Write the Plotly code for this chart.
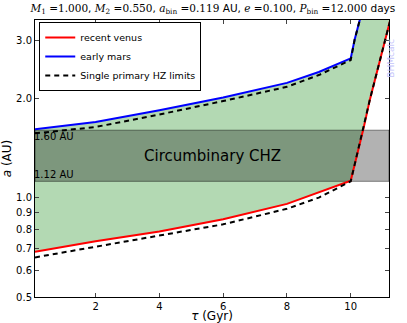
import numpy as np
import plotly.graph_objects as go

# age (Gyr) and HZ edges (AU)
tau_venus = [0.1, 2, 4, 6, 8, 9, 10, 10.4, 10.6, 11.2, 11.4]
a_venus = [0.685, 0.737, 0.79, 0.86, 0.957, 1.035, 1.125, 1.62, 1.98, 3.33, 3.96]

tau_mars = [0.1, 2, 4, 6, 8, 9, 10, 10.12, 10.3, 10.42]
a_mars = [1.61, 1.694, 1.838, 2.01, 2.225, 2.40, 2.64, 3.0, 3.5, 4.0]

# single primary HZ limits (inner and outer)
tau_sp_in = [0.1, 2, 4, 6, 8, 9, 10, 10.4, 10.6, 11.2, 11.4]
a_sp_in = [0.659, 0.71, 0.765, 0.83, 0.925, 1.0, 1.12, 1.62, 1.98, 3.33, 3.96]
tau_sp_out = [0.1, 2, 4, 6, 8, 9, 10, 10.12, 10.3, 10.42]
a_sp_out = [1.565, 1.636, 1.785, 1.96, 2.165, 2.35, 2.61, 3.0, 3.5, 4.0]

# circumbinary continuous HZ
chz_in = 1.12
chz_out = 1.60

tau_min, tau_max = 0.1, 11.2
a_min, a_max = 0.5, 3.45
yticks = [0.5, 0.6, 0.7, 0.8, 0.9, 1.0, 2.0, 3.0]

fig = go.Figure()

# green HZ area between recent venus and early mars
fig.add_trace(go.Scatter(
    x=tau_venus + tau_mars[::-1], y=a_venus + a_mars[::-1],
    fill="toself", fillcolor="#b3d9b3", line=dict(width=0),
    mode="lines", showlegend=False, hoverinfo="skip"))

# CHZ band
fig.add_trace(go.Scatter(
    x=[tau_min, tau_max, tau_max, tau_min, tau_min],
    y=[chz_in, chz_in, chz_out, chz_out, chz_in],
    fill="toself", fillcolor="rgba(0,0,0,0.3)",
    line=dict(color="rgba(0,0,0,0.45)", width=1),
    mode="lines", showlegend=False, hoverinfo="skip"))

fig.add_trace(go.Scatter(x=tau_venus, y=a_venus, mode="lines", name="recent venus",
                         line=dict(color="red", width=2)))
fig.add_trace(go.Scatter(x=tau_mars, y=a_mars, mode="lines", name="early mars",
                         line=dict(color="blue", width=2)))
fig.add_trace(go.Scatter(x=tau_sp_in + [None] + tau_sp_out, y=a_sp_in + [None] + a_sp_out,
                         mode="lines", name="Single primary HZ limits",
                         line=dict(color="black", width=2, dash="5px,4px")))

fig.add_annotation(x=(tau_min + tau_max) / 2, y=np.log10(np.sqrt(chz_in * chz_out)),
                   text="Circumbinary CHZ", showarrow=False,
                   font=dict(size=15, color="black"))
fig.add_annotation(x=tau_min, y=np.log10(chz_out), text="%.2f AU" % chz_out,
                   showarrow=False, xanchor="left", yanchor="top", borderpad=0,
                   xshift=-2, font=dict(size=10, color="black"))
fig.add_annotation(x=tau_min, y=np.log10(chz_in), text="%.2f AU" % chz_in,
                   showarrow=False, xanchor="left", yanchor="bottom", borderpad=0,
                   xshift=-2, font=dict(size=10, color="black"))
fig.add_annotation(xref="paper", yref="paper", x=1.027, y=0.94, text="BHMcalc",
                   textangle=-90, showarrow=False, font=dict(size=9, color="#c4c4fb"))

serif = "<span style='font-family:DejaVu Serif'>"
title = (serif + "<i>M</i><sub>1</sub> =1.000</span>, "
         + serif + "<i>M</i><sub>2</sub> =0.550</span>, "
         + serif + "<i>a</i><sub>bin</sub> =0.119</span> AU, "
         + serif + "<i>e</i> =0.100</span>, "
         + serif + "<i>P</i><sub>bin</sub> =12.000</span> days")

fig.update_layout(
    width=407, height=323,
    margin=dict(l=35, r=18, t=20, b=26, autoexpand=False),
    paper_bgcolor="white", plot_bgcolor="white",
    font=dict(family="DejaVu Sans", size=10, color="black"),
    title=dict(text=title, x=0.523, xanchor="center", y=0.975, yanchor="middle",
               font=dict(size=10.5), automargin=False),
    legend=dict(x=0.012, y=0.993, xanchor="left", yanchor="top",
                bgcolor="white", bordercolor="black", borderwidth=1,
                font=dict(size=9.5), itemwidth=30, tracegroupgap=0),
)
fig.update_xaxes(range=[tau_min, tau_max], tickvals=[2, 4, 6, 8, 10], automargin=False,
                 showgrid=False, zeroline=False, showline=True, linecolor="black",
                 linewidth=1, mirror="ticks", ticks="inside", ticklen=4,
                 title=dict(text="<i>τ</i> (Gyr)", font=dict(size=12), standoff=2))
fig.update_yaxes(type="log", range=[np.log10(a_min), np.log10(a_max)], automargin=False,
                 tickvals=yticks, ticktext=["%.1f" % v for v in yticks],
                 showgrid=False, zeroline=False, showline=True, linecolor="black",
                 linewidth=1, mirror="ticks", ticks="inside", ticklen=4,
                 title=dict(text="<i>a</i> (AU)", font=dict(size=12), standoff=6))

# drop the page's default body margin so the figure sits at the window corner
fig.write_html("out.html", config={"displayModeBar": False},
               post_script="document.body.style.margin = '0';")
